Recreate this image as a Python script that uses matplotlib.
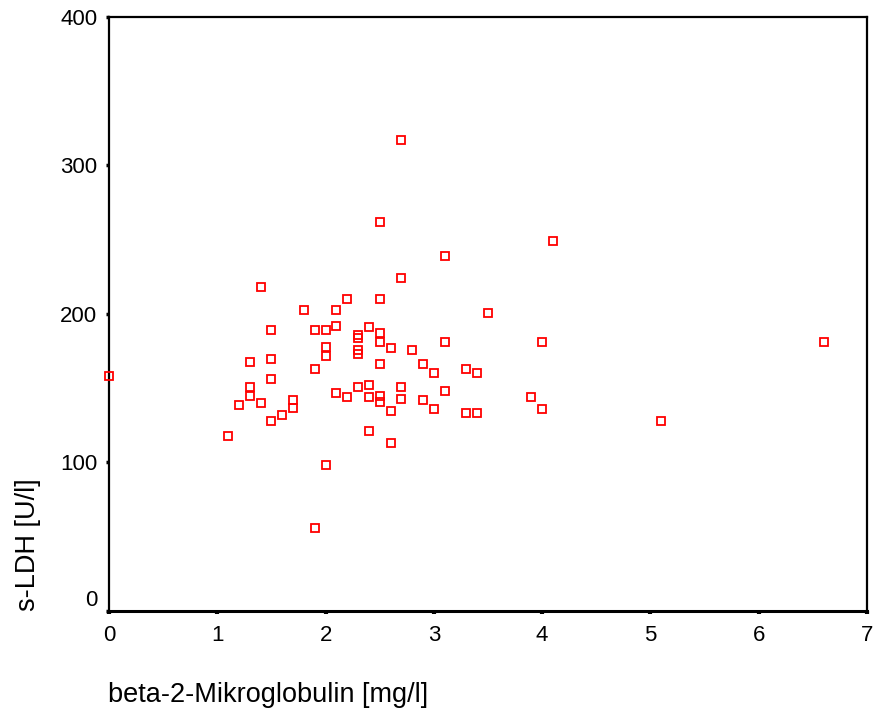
import matplotlib
matplotlib.use("Agg")
import matplotlib.pyplot as plt
from matplotlib import font_manager

# beta-2-Mikroglobulin [mg/l] vs s-LDH [U/l]
b2m = [
    2.7, 2.5, 3.1, 4.1, 1.4, 2.7, 2.2, 2.5, 1.8, 2.1,
    3.5, 1.5, 1.9, 2.0, 2.1, 2.4, 2.3, 2.3, 2.5, 2.5,
    2.6, 2.8, 3.1, 4.0, 6.6, 2.0, 2.0, 2.3, 2.3, 1.3,
    1.5, 2.5, 2.9, 3.0, 3.3, 3.4, 1.9, 0.0, 1.5, 1.3,
    1.3, 1.2, 1.4, 1.7, 1.7, 1.6, 1.5, 2.1, 2.2, 2.3,
    2.4, 2.4, 2.5, 2.5, 2.6, 2.7, 2.7, 2.9, 3.0, 3.1,
    3.3, 3.4, 3.9, 4.0, 5.1, 1.1, 2.4, 2.6, 2.0, 1.9,
]
ldh = [
    317, 262, 239, 249, 218, 224, 210, 210, 203, 203,
    201, 189, 189, 189, 192, 191, 186, 184, 187, 181,
    177, 176, 181, 181, 181, 178, 172, 176, 173, 168,
    170, 166, 166, 160, 163, 160, 163, 158, 156, 151,
    145, 139, 140, 142, 137, 132, 128, 147, 144, 151,
    152, 144, 145, 141, 135, 151, 143, 142, 136, 148,
    133, 133, 144, 136, 128, 118, 121, 113, 98, 56,
]
x_ticks = [0, 1, 2, 3, 4, 5, 6, 7]
y_ticks = [0, 100, 200, 300, 400]

installed = {f.name for f in font_manager.fontManager.ttflist}
base_font = "Liberation Sans" if "Liberation Sans" in installed else "DejaVu Sans"
plt.rcParams["font.family"] = base_font

fig = plt.figure(figsize=(8.73, 7.2), dpi=100)
ax = fig.add_axes([0.1249, 0.1514, 0.8682, 0.8250])

ax.plot(b2m, ldh, linestyle="none", marker="s", markersize=6.2,
        markerfacecolor="none", markeredgecolor="#ff0000", markeredgewidth=1.3,
        clip_on=False, zorder=3)

ax.set_xlim(0, 7)
ax.set_ylim(0, 400)
ax.set_xticks(x_ticks)
ax.set_yticks(y_ticks)
ax.set_xticklabels([str(t) for t in x_ticks], fontsize=16)
ax.set_yticklabels([str(t) for t in y_ticks], fontsize=16)
ax.get_yticklabels()[0].set_va("bottom")

ax.tick_params(axis="x", direction="out", length=2.2, width=3, pad=8)
ax.tick_params(axis="y", direction="out", length=2.5, width=2.5, pad=6)

for side in ["left", "top", "right"]:
    ax.spines[side].set_linewidth(1.6)
ax.spines["bottom"].set_linewidth(2.2)

fig.text(0.124, 0.035, "beta-2-Mikroglobulin [mg/l]", fontsize=19.5,
         ha="left", va="center")
fig.text(0.032, 0.152, "s-LDH [U/l]", fontsize=19.5, rotation=90,
         ha="center", va="bottom")

fig.savefig("out.png", dpi=100)
